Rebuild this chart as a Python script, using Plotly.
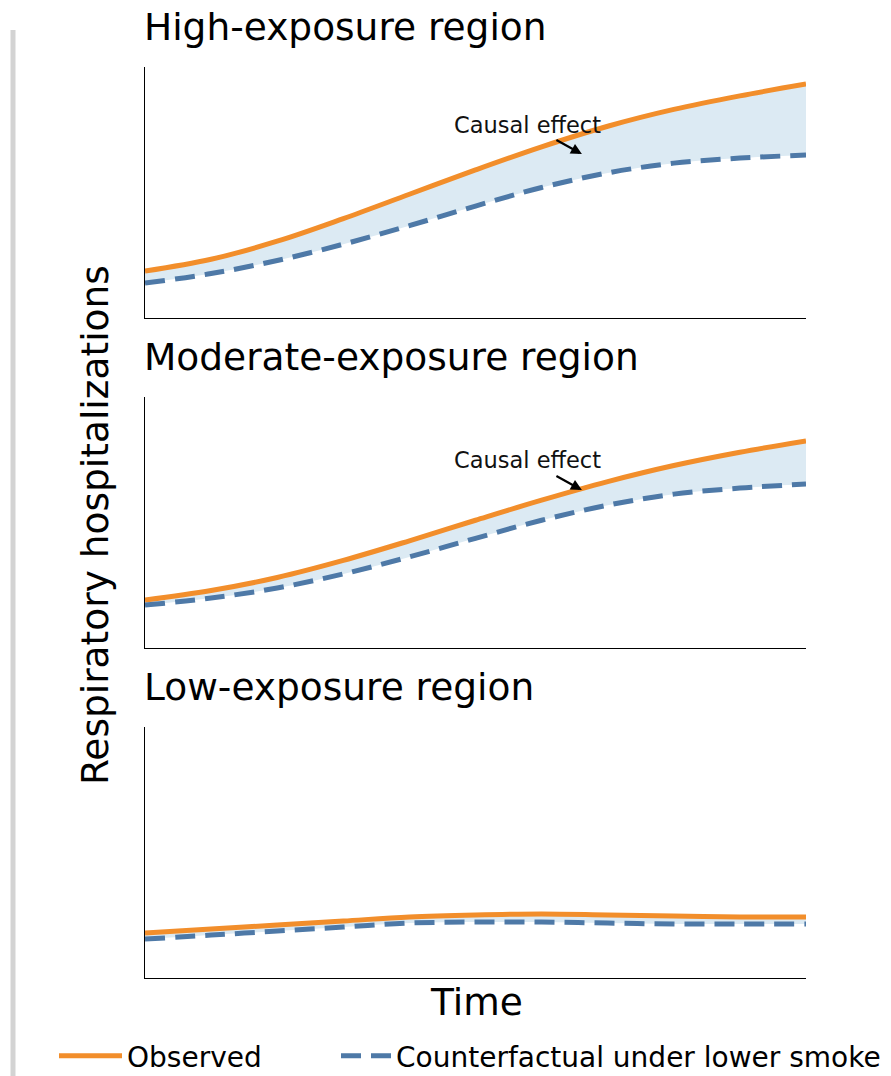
import plotly.graph_objects as go

# ---------------- data ----------------
time = [0, 1, 2, 3, 4, 5, 6, 7, 8, 9, 10]

high_observed = [1.87, 2.34, 3.06, 3.96, 4.93, 5.90, 6.82, 7.64, 8.31, 8.85, 9.32]
high_counterfactual = [1.39, 1.77, 2.29, 2.94, 3.68, 4.46, 5.20, 5.78, 6.17, 6.37, 6.49]

moderate_observed = [1.91, 2.29, 2.81, 3.49, 4.27, 5.09, 5.89, 6.63, 7.27, 7.80, 8.25]
moderate_counterfactual = [1.71, 1.99, 2.39, 2.95, 3.63, 4.37, 5.09, 5.69, 6.13, 6.37, 6.53]

low_observed = [1.79, 1.95, 2.11, 2.27, 2.43, 2.51, 2.55, 2.51, 2.47, 2.43, 2.43]
low_counterfactual = [1.55, 1.71, 1.87, 2.03, 2.19, 2.23, 2.23, 2.19, 2.15, 2.15, 2.15]

panel_titles = ["High-exposure region", "Moderate-exposure region", "Low-exposure region"]
series_names = ["Observed", "Counterfactual under lower smoke"]
annotation_text = "Causal effect"

# ---------------- style ----------------
FONT = "DejaVu Sans"
ORANGE = "#f28e2b"
BLUE = "#4e79a7"
FILL = "#dceaf3"

W, H = 891, 1076

ML = 145
MT = 67
MR = W - 806
MB = H - 978
plot_h = H - MT - MB
plot_w = W - ML - MR

def py(pix):  # pixel y -> paper y
    return (H - MB - pix) / plot_h

def px(pix):  # pixel x -> paper x
    return (pix - ML) / plot_w

def cx(pix):  # pixel x -> container x
    return pix / W

def cy(pix):
    return 1 - pix / H

domains = [[py(318), py(67)], [py(648), py(397)], [py(978), py(727)]]

fig = go.Figure()

panels = [
    (high_observed, high_counterfactual),
    (moderate_observed, moderate_counterfactual),
    (low_observed, low_counterfactual),
]

for i, (obs, cf) in enumerate(panels):
    xa = "x" if i == 0 else f"x{i+1}"
    ya = "y" if i == 0 else f"y{i+1}"
    fig.add_trace(go.Scatter(x=time, y=cf, mode="lines", line=dict(width=0, shape="spline"),
                             showlegend=False, hoverinfo="skip", xaxis=xa, yaxis=ya))
    fig.add_trace(go.Scatter(x=time, y=obs, mode="lines", line=dict(width=0, shape="spline"),
                             fill="tonexty", fillcolor=FILL,
                             showlegend=False, hoverinfo="skip", xaxis=xa, yaxis=ya))
    fig.add_trace(go.Scatter(x=time, y=obs, mode="lines", name=series_names[0],
                             line=dict(color=ORANGE, width=5, shape="spline"),
                             showlegend=(i == 0), legend="legend", xaxis=xa, yaxis=ya))
    fig.add_trace(go.Scatter(x=time, y=cf, mode="lines", name=series_names[1],
                             line=dict(color=BLUE, width=5, shape="spline", dash="20px,10px"),
                             showlegend=(i == 0), legend="legend2", xaxis=xa, yaxis=ya))

axis_common = dict(showticklabels=False, showgrid=False, zeroline=False, ticks="",
                   showline=True, linecolor="#000000", linewidth=1.3, mirror=False)

layout_axes = {}
for i in range(3):
    sx = "xaxis" if i == 0 else f"xaxis{i+1}"
    sy = "yaxis" if i == 0 else f"yaxis{i+1}"
    layout_axes[sx] = dict(axis_common, range=[0, 10], domain=[0, 1],
                           anchor="y" if i == 0 else f"y{i+1}")
    layout_axes[sy] = dict(axis_common, range=[0, 10], domain=domains[i],
                           anchor="x" if i == 0 else f"x{i+1}")

annotations = []
title_centers = [27, 357, 687]
for t, c in zip(panel_titles, title_centers):
    annotations.append(dict(text=t, xref="paper", yref="paper", x=px(142), y=py(c),
                            xanchor="left", yanchor="middle", showarrow=False,
                            font=dict(family=FONT, size=37.5, color="#000000")))

for xa, ya, ty, hy in [("x", "y", 7.69, 6.53), ("x2", "y2", 7.49, 6.29)]:
    annotations.append(dict(text=annotation_text, xref=xa, yref=ya, x=5.79, y=ty,
                            showarrow=False, xanchor="center", yanchor="middle",
                            font=dict(family=FONT, size=22.5, color="#111111")))
    annotations.append(dict(text="", xref=xa, yref=ya, x=6.61, y=hy,
                            ax=-27, ay=-15, showarrow=True, arrowhead=2,
                            arrowsize=1, arrowwidth=2.2, arrowcolor="#000000"))

annotations.append(dict(text="Respiratory hospitalizations", xref="paper", yref="paper",
                        x=px(95), y=py(525), textangle=-90, showarrow=False,
                        xanchor="center", yanchor="middle",
                        font=dict(family=FONT, size=37.5, color="#000000")))
annotations.append(dict(text="Time", xref="paper", yref="paper",
                        x=px(476), y=py(1002), showarrow=False,
                        xanchor="center", yanchor="middle",
                        font=dict(family=FONT, size=37.5, color="#000000")))

shapes = [dict(type="line", xref="paper", yref="paper", x0=px(13), x1=px(13),
               y0=py(30), y1=py(1080), line=dict(color="#d3d3d3", width=5))]

legend_common = dict(orientation="h", xref="container", yref="container",
                     xanchor="left", yanchor="middle",
                     font=dict(family=FONT, size=28, color="#000000"),
                     bgcolor="rgba(0,0,0,0)", borderwidth=0)

fig.update_layout(
    width=W, height=H,
    margin=dict(l=ML, r=MR, t=MT, b=MB),
    paper_bgcolor="white", plot_bgcolor="white",
    font=dict(family=FONT, color="#000000"),
    annotations=annotations, shapes=shapes,
    legend=dict(legend_common, x=cx(54), y=cy(1056), itemwidth=63),
    legend2=dict(legend_common, x=cx(336), y=cy(1056), itemwidth=50),
    **layout_axes,
)

fig.write_html("out.html", config={"displayModeBar": False},
               post_script="document.body.style.margin='0px';")
